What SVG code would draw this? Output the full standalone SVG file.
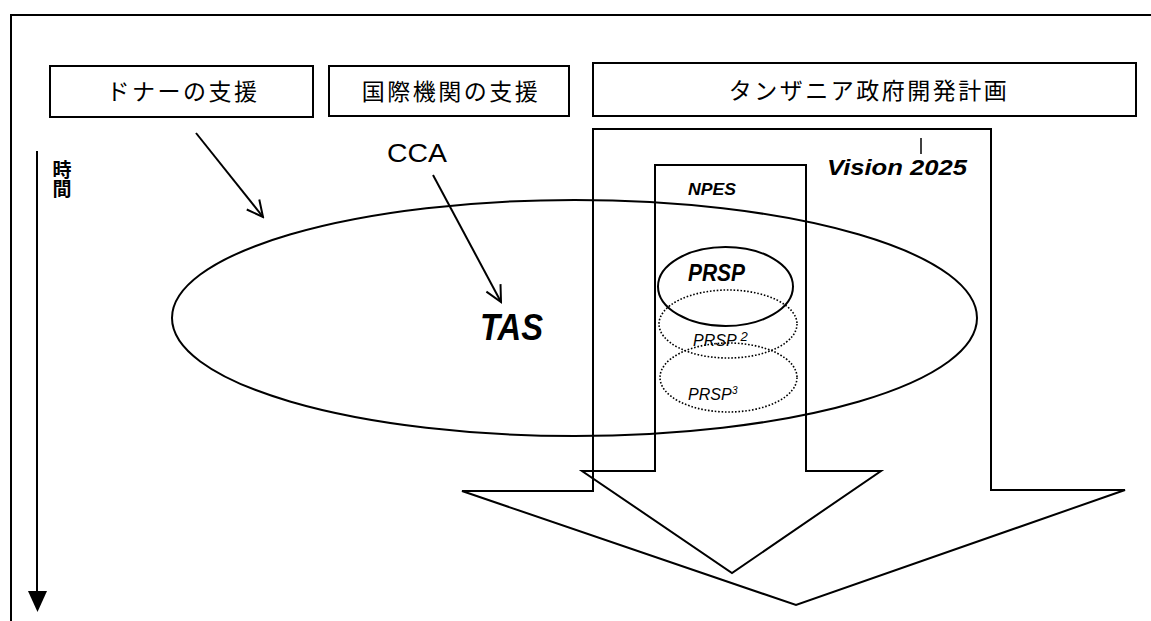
<svg xmlns="http://www.w3.org/2000/svg" width="1151" height="621" viewBox="0 0 1151 621">
<style>
.ln{fill:none;stroke:#000;stroke-width:2}
.box{fill:#fff;stroke:#000;stroke-width:2}
.jp{font-family:"Noto Sans CJK JP","Noto Sans",sans-serif;font-size:23px;letter-spacing:2.5px;fill:#000}
.en{font-family:"Liberation Sans",Arial,sans-serif;fill:#000}
.bi{font-weight:bold;font-style:italic}
.it{font-style:italic}
.dot{fill:none;stroke:#000;stroke-width:1.6;stroke-dasharray:1.6 1.8}
</style>
<defs>
<marker id="open" viewBox="0 0 20 20" refX="18" refY="10" markerWidth="20" markerHeight="20" markerUnits="userSpaceOnUse" orient="auto">
<path d="M2,2 L18,10 L2,18" fill="none" stroke="#000" stroke-width="2"/>
</marker>
</defs>
<rect width="1151" height="621" fill="#fff"/>
<g id="frame">
<path class="ln" d="M11,621 V15 H1151"/>
</g>
<g id="time-axis">
<line class="ln" x1="37" y1="151" x2="37" y2="592"/>
<polygon points="28,591 47,591 37.5,612" fill="#000"/>
<text class="jp" style="font-size:19px;letter-spacing:0;font-weight:bold" x="62" y="160" writing-mode="vertical-rl">時間</text>
</g>
<g id="donor">
<rect class="box" x="50" y="66" width="263" height="51"/>
<text class="jp" x="183" y="100" text-anchor="middle">ドナーの支援</text>
</g>
<g id="intl">
<rect class="box" x="329" y="66" width="240" height="50"/>
<text class="jp" x="451" y="100" text-anchor="middle">国際機関の支援</text>
</g>
<g id="tanzania">
<rect class="box" x="593" y="63" width="543" height="53"/>
<text class="jp" x="869" y="99" text-anchor="middle">タンザニア政府開発計画</text>
</g>
<g id="tas">
<ellipse class="ln" cx="574.5" cy="318" rx="402.5" ry="118"/>
<text class="en bi" x="480" y="340" font-size="36" textLength="63" lengthAdjust="spacingAndGlyphs">TAS</text>
</g>
<g id="cca">
<text class="en" x="387" y="162" font-size="26" textLength="60" lengthAdjust="spacingAndGlyphs">CCA</text>
</g>
<g id="vision">
<polygon class="ln" points="593,129 991,129 991,490 1125,490 796,605 462,491 593,491"/>
<text class="en bi" x="827" y="175" font-size="22" textLength="140" lengthAdjust="spacingAndGlyphs">Vision 2025</text>
<line x1="921" y1="138" x2="921" y2="154" stroke="#000" stroke-width="1.5"/>
</g>
<g id="npes">
<polygon class="ln" points="655,165 806,165 806,471 881,471 732,573 582,471 655,471"/>
<text class="en bi" x="688" y="195" font-size="17" textLength="48" lengthAdjust="spacingAndGlyphs">NPES</text>
</g>
<g id="prsp">
<ellipse class="ln" cx="725.5" cy="286.5" rx="67.5" ry="39.5"/>
<text class="en bi" x="688" y="281" font-size="24" textLength="57" lengthAdjust="spacingAndGlyphs">PRSP</text>
</g>
<g id="prsp2">
<ellipse class="dot" cx="728" cy="324" rx="69" ry="34"/>
<text class="en it" x="693" y="346" font-size="16">PRSP<tspan dx="4" dy="-5" font-size="13">2</tspan></text>
</g>
<g id="prsp3">
<ellipse class="dot" cx="728.5" cy="377.5" rx="68.5" ry="34.5"/>
<text class="en it" x="688" y="400" font-size="16">PRSP<tspan dx="0.5" dy="-6" font-size="10">3</tspan></text>
</g>
<g id="connectors">
<line class="ln" x1="196" y1="133" x2="263" y2="217" marker-end="url(#open)"/>
<line class="ln" x1="433" y1="175" x2="501" y2="302" marker-end="url(#open)"/>
</g>
</svg>
